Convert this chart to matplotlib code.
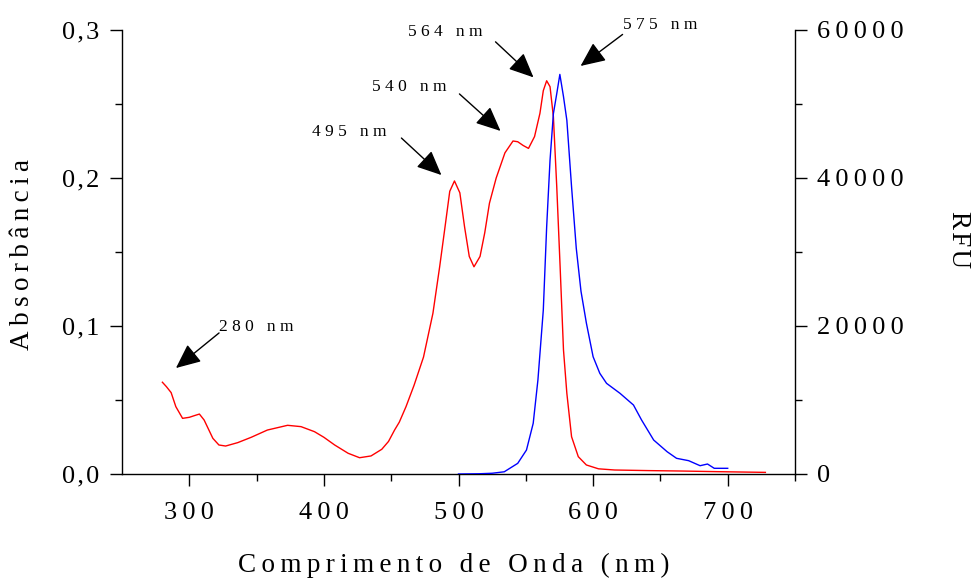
import matplotlib
matplotlib.use("Agg")
import matplotlib.pyplot as plt
from matplotlib.ticker import MultipleLocator, FixedLocator, FuncFormatter

plt.rcParams['font.family'] = ['Liberation Serif', 'DejaVu Serif']

TS = "\u2009"  # thin space used for letter spacing as in the original
HS = "\u200a"  # hair space


def spaced(s, sep=TS):
    return sep.join(s)


# Absorbance spectrum (red, left axis)
red_nm = [280, 283, 286.5, 290, 295, 300, 304, 307.5, 311, 317.5, 322, 327, 336, 346,
          358, 373, 383, 393, 400, 408, 418, 426.5, 435, 443, 448, 452.5, 456, 461,
          467, 474, 481, 486, 490, 493.5, 497, 501, 504.5, 508, 511.5, 516, 519.5,
          523, 528, 534.5, 540.5, 544, 548, 552, 556.5, 560.5, 563, 565.5, 568,
          570.5, 573, 575.5, 578, 580.5, 584, 589, 595, 604, 616, 641, 666, 691, 728]
red_abs = [0.062, 0.059, 0.055, 0.0455, 0.0376, 0.0383, 0.0395, 0.0405, 0.0365, 0.0241,
           0.0196, 0.0189, 0.0212, 0.0248, 0.0297, 0.0329, 0.032, 0.0286, 0.0248,
           0.0196, 0.014, 0.011, 0.0122, 0.0167, 0.022, 0.0297, 0.035, 0.0455, 0.060,
           0.079, 0.1086, 0.140, 0.167, 0.191, 0.198, 0.190, 0.167, 0.147, 0.140,
           0.147, 0.163, 0.183, 0.200, 0.217, 0.225, 0.2245, 0.222, 0.220, 0.228,
           0.2437, 0.259, 0.2657, 0.2617, 0.2414, 0.194, 0.140, 0.0838, 0.0545,
           0.0252, 0.0117, 0.0061, 0.0035, 0.0027, 0.0023, 0.002, 0.0016, 0.0011]

# Fluorescence emission (blue, right axis)
blue_nm = [500, 515, 525, 534, 544, 550.5, 555.5, 559, 563, 565.5, 568, 570.5, 573,
           575.3, 578, 580.5, 584, 587.5, 591, 595, 600, 605, 610, 620, 630, 636,
           645, 655, 662, 671, 679.5, 685, 690, 700]
blue_rfu = [0, 30, 100, 300, 1440, 3240, 6850, 12700, 22150, 33400, 42400, 48700,
            51400, 54000, 51000, 47800, 38800, 30500, 24700, 20400, 15850, 13600,
            12250, 10900, 9320, 7300, 4590, 3010, 2120, 1800, 1120, 1350, 770, 770]

# Peak annotations: label, arrow tip (nm, abs), arrow tail, label position
peak_labels = ["280 nm", "495 nm", "540 nm", "564 nm", "575 nm"]
peak_tips = [(290.1, 0.0716), (487.3, 0.202), (531.2, 0.2318), (555.7, 0.268), (590.7, 0.2757)]
peak_tails = [(322.1, 0.0953), (457.6, 0.227), (500.7, 0.2568), (527.5, 0.292), (621.9, 0.297)]
peak_text = [(349.6, 0.0993), (418.9, 0.231), (463.5, 0.2615), (490.3, 0.2986), (650.1, 0.3034)]

x_ticks = [300, 400, 500, 600, 700]
y_left_ticks = [0.0, 0.1, 0.2, 0.3]
y_right_ticks = [0, 20000, 40000, 60000]

fig = plt.figure(figsize=(9.72, 5.8), dpi=100)
ax = fig.add_axes([122 / 972, 1 - 474 / 580, (795 - 122) / 972, (474 - 30) / 580])
ax2 = ax.twinx()

ax.plot(red_nm, red_abs, color='#ff0000', lw=1.0)
ax2.plot(blue_nm, blue_rfu, color='#0000ff', lw=1.0)

ax.set_xlim(250, 750)
ax.set_ylim(0, 0.3)
ax2.set_ylim(0, 60000)

for a in (ax, ax2):
    a.spines['top'].set_visible(False)
ax.spines['right'].set_visible(False)
ax2.spines['left'].set_visible(False)
ax2.spines['bottom'].set_visible(False)
for a in (ax, ax2):
    for s in a.spines.values():
        s.set_linewidth(1.0)

ax.xaxis.set_major_locator(FixedLocator(x_ticks))
ax.xaxis.set_minor_locator(FixedLocator([350, 450, 550, 650, 750]))
ax.yaxis.set_major_locator(FixedLocator(y_left_ticks))
ax.yaxis.set_minor_locator(MultipleLocator(0.05))
ax2.yaxis.set_major_locator(FixedLocator(y_right_ticks))
ax2.yaxis.set_minor_locator(MultipleLocator(10000))

ax.xaxis.set_major_formatter(FuncFormatter(lambda v, p: spaced(f"{v:.0f}")))
ax.yaxis.set_major_formatter(FuncFormatter(lambda v, p: spaced(f"{v:.1f}".replace('.', ','), HS)))
ax2.yaxis.set_major_formatter(FuncFormatter(lambda v, p: spaced(f"{v:.0f}")))

ax.tick_params(axis='both', which='major', direction='out', length=8.5, width=1.0, labelsize=19)
ax.tick_params(axis='both', which='minor', direction='out', length=5, width=1.0)
ax.tick_params(axis='x', which='major', pad=12)
ax.tick_params(axis='y', which='major', pad=8)
ax2.tick_params(axis='y', which='major', direction='out', length=8.5, width=1.0, labelsize=19, pad=7)
ax2.tick_params(axis='y', which='minor', direction='out', length=5, width=1.0)

ax.set_xlabel(spaced("Comprimento de Onda (nm)"), fontsize=19.5, va='center', ha='center')
ax.xaxis.set_label_coords((454 - 122) / 673, (474 - 565) / 444)
ax.set_ylabel(spaced("Absorbância"), fontsize=19.5, va='center', ha='center')
ax.yaxis.set_label_coords((22 - 122) / 673, (474 - 255) / 444)
ax2.set_ylabel(spaced("RFU", HS), fontsize=19.5, rotation=270, va='center', ha='center')
ax2.yaxis.set_label_coords((958 - 122) / 673, (474 - 240) / 444)

for lab, tip, tail, txt in zip(peak_labels, peak_tips, peak_tails, peak_text):
    ax.annotate("", xy=tip, xytext=tail,
                arrowprops=dict(arrowstyle='-|>,head_length=0.4,head_width=0.18',
                                mutation_scale=38, color='black', lw=1.0,
                                shrinkA=0, shrinkB=0))
    ax.text(txt[0], txt[1], spaced(lab, ' '), fontsize=12.5, ha='center', va='center')

fig.savefig("out.png", dpi=100)
